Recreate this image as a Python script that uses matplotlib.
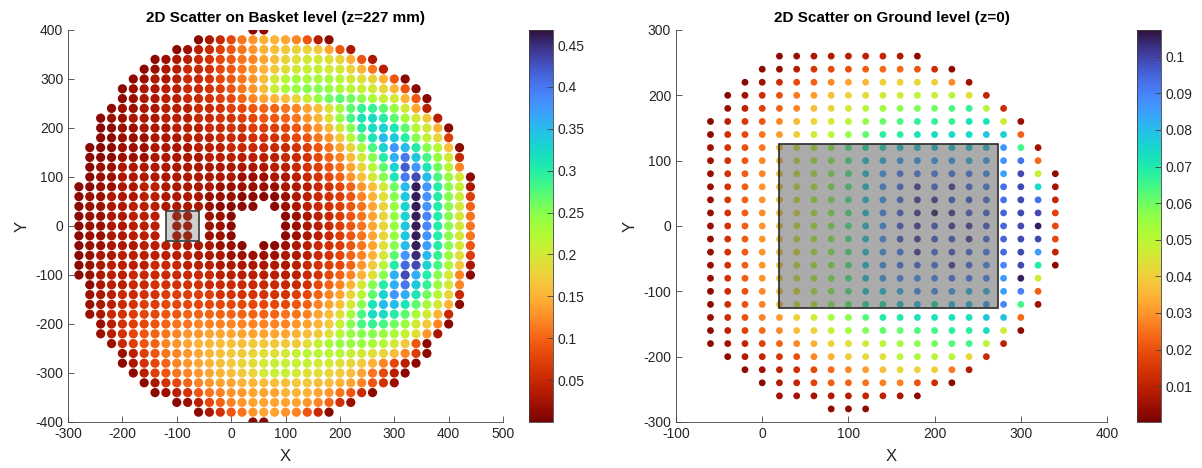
import matplotlib
matplotlib.use('Agg')
import matplotlib.pyplot as plt
from matplotlib.patches import Rectangle

STEP = 20  # grid pitch in mm

# ---- Basket level (z=227 mm): one entry per grid row, values in 0.01 units ----
basket_y = [400, 380, 360, 340, 320, 300, 280, 260, 240, 220, 200, 180, 160, 140,
            120, 100, 80, 60, 40, 20, 0, -20, -40, -60, -80, -100, -120, -140,
            -160, -180, -200, -220, -240, -260, -280, -300, -320, -340, -360,
            -380, -400]
basket_x0 = [40, -60, -100, -140, -160, -180, -200, -200, -220, -240, -240, -240,
             -260, -260, -260, -260, -280, -280, -280, -280, -280, -280, -280,
             -280, -280, -280, -260, -260, -260, -260, -240, -240, -220, -200,
             -200, -180, -160, -140, -100, -60, 40]
N = None
basket_vals = [
    [1, 1],
    [1, 3, 5, 8, 11, 13, 15, 15, 14, 12, 9, 4, 1],
    [1, 2, 4, 5, 7, 9, 11, 13, 15, 16, 17, 18, 18, 17, 14, 9, 3],
    [1, 2, 3, 4, 5, 6, 8, 9, 11, 12, 14, 16, 18, 19, 20, 20, 19, 18, 15, 9, 3],
    [1, 2, 3, 4, 5, 5, 6, 8, 9, 11, 13, 15, 17, 19, 20, 21, 21, 20, 20, 18, 15, 11, 4],
    [1, 2, 3, 3, 4, 5, 5, 6, 8, 9, 11, 13, 16, 20, 22, 23, 23, 23, 23, 22, 20, 19, 18,
     15, 9, 1],
    [1, 2, 3, 3, 4, 4, 5, 5, 6, 7, 9, 11, 13, 16, 21, 23, 24, 25, 25, 24, 23, 22, 21,
     20, 18, 15, 9, 1],
    [1, 2, 3, 3, 4, 4, 5, 5, 6, 7, 8, 10, 12, 14, 15, 16, 18, 21, 24, 26, 27, 26, 25,
     23, 21, 20, 15, 9, 1],
    [1, 2, 2, 3, 3, 4, 4, 4, 5, 5, 6, 7, 8, 9, 10, 10, 11, 12, 14, 16, 19, 23, 27, 29,
     29, 27, 24, 20, 14, 4],
    [1, 2, 2, 3, 3, 3, 4, 4, 4, 5, 5, 6, 6, 7, 8, 9, 9, 10, 11, 13, 15, 19, 24, 28, 31,
     32, 30, 27, 23, 20, 17, 4],
    [1, 1, 2, 2, 3, 3, 3, 4, 4, 4, 5, 5, 6, 6, 7, 7, 7, 8, 9, 11, 13, 16, 20, 25, 30,
     32, 33, 31, 27, 22, 20, 15, 1],
    [1, 1, 2, 2, 2, 3, 3, 3, 4, 4, 4, 5, 5, 5, 6, 6, 6, 7, 8, 9, 11, 13, 17, 22, 27,
     31, 35, 34, 30, 25, 21, 18, 7],
    [1, 1, 1, 2, 2, 2, 3, 3, 3, 3, 4, 4, 4, 5, 5, 5, 5, 5, 5, 6, 7, 9, 11, 14, 18, 23,
     28, 33, 38, 35, 30, 25, 22, 16, 1],
    [1, 1, 1, 2, 2, 2, 3, 3, 3, 3, 3, 4, 4, 4, 4, 4, 4, 4, 5, 5, 6, 8, 10, 12, 16, 20,
     25, 30, 36, 40, 34, 28, 24, 20, 5],
    [1, 2, 2, 3, 3, 3, 3, 3, 3, 3, 3, 3, 3, 3, 3, 3, 3, 4, 4, 5, 6, 7, 9, 11, 14, 18,
     22, 27, 33, 42, 38, 31, 26, 22, 12],
    [1, 2, 2, 3, 3, 3, 3, 3, 3, 3, 3, 3, 3, 3, 2, 2, 2, 3, 3, 4, 5, 6, 8, 10, 13, 16,
     20, 25, 31, 40, 43, 35, 28, 24, 20, 1],
    [1, 1, 2, 2, 3, 3, 4, 4, 3, 3, 3, 3, 3, 2, 2, 2, 2, 2, 2, 3, 3, 4, 5, 6, 8, 10, 13,
     16, 20, 26, 35, 46, 38, 30, 25, 21, 3],
    [1, 2, 2, 3, 3, 3, 4, 4, 3, 3, 3, 3, 2, 2, 2, 1, 1, 1, 1, 2, 3, 4, 5, 6, 7, 9, 12,
     15, 19, 25, 34, 46, 38, 30, 25, 21, 7],
    [1, 2, 2, 3, 3, 4, 4, 4, 3, 3, 3, 3, 2, 1, 1, 1, 1, N, 1, 2, 3, 4, 5, 6, 7, 9, 11,
     14, 18, 24, 33, 46, 38, 30, 25, 20, 10],
    [1, 2, 2, 3, 3, 4, 4, 4, N, 3, 3, N, 2, 2, 1, N, N, N, N, 1, 2, 3, 4, 5, 7, 9, 11,
     14, 18, 24, 33, 46, 39, 30, 25, 20, 11],
    [1, 2, 2, 3, 3, 4, 4, 4, N, 3, 3, N, 2, 2, 1, N, N, N, N, 1, 2, 3, 4, 5, 7, 9, 11,
     14, 18, 24, 34, 46, 39, 30, 25, 20, 11],
    [1, 2, 2, 3, 3, 4, 4, 4, N, 3, 3, N, 2, 2, 1, N, N, N, N, 1, 2, 3, 4, 5, 7, 9, 11,
     14, 18, 24, 34, 46, 38, 30, 25, 20, 11],
    [1, 2, 2, 3, 3, 3, 4, 4, 4, 4, 3, 3, 3, 2, 2, 1, N, 1, 1, 2, 3, 4, 5, 6, 7, 9, 11,
     14, 19, 25, 35, 46, 37, 30, 25, 20, 9],
    [1, 2, 3, 3, 4, 4, 4, 4, 4, 4, 4, 3, 3, 3, 2, 2, 2, 2, 2, 3, 3, 4, 5, 6, 8, 10, 12,
     15, 20, 27, 38, 45, 35, 29, 24, 19, 7],
    [1, 2, 3, 4, 4, 4, 4, 5, 5, 5, 4, 4, 4, 3, 3, 3, 3, 3, 3, 3, 4, 5, 6, 7, 8, 10, 13,
     17, 22, 30, 41, 43, 33, 28, 23, 17, 3],
    [1, 2, 3, 4, 4, 5, 5, 5, 5, 5, 5, 5, 5, 4, 4, 4, 4, 4, 4, 4, 4, 5, 6, 8, 10, 12,
     15, 19, 25, 36, 43, 36, 30, 25, 20, 12, 1],
    [1, 3, 4, 4, 5, 5, 6, 6, 6, 6, 6, 5, 5, 5, 5, 5, 5, 5, 5, 5, 6, 8, 10, 12, 15, 20,
     25, 30, 36, 40, 34, 29, 24, 20, 12],
    [2, 3, 4, 5, 5, 6, 6, 7, 7, 7, 7, 7, 6, 6, 6, 6, 6, 6, 6, 7, 8, 10, 12, 14, 18, 22,
     27, 33, 38, 36, 31, 26, 22, 18, 5],
    [2, 3, 4, 5, 6, 7, 7, 8, 8, 8, 8, 8, 8, 8, 8, 8, 8, 8, 8, 9, 10, 12, 14, 16, 20, 25,
     31, 35, 35, 31, 27, 23, 20, 15, 1],
    [2, 3, 5, 6, 7, 8, 8, 9, 9, 10, 10, 10, 10, 10, 10, 10, 10, 10, 11, 11, 12, 14, 16,
     19, 23, 28, 32, 32, 30, 27, 23, 20, 15, 5],
    [2, 4, 6, 7, 8, 9, 10, 11, 11, 12, 12, 12, 12, 12, 12, 12, 12, 12, 13, 14, 15, 17,
     21, 25, 28, 29, 28, 26, 24, 20, 17, 12, 1],
    [2, 4, 6, 8, 9, 10, 11, 12, 13, 13, 14, 14, 14, 14, 14, 14, 14, 14, 15, 16, 17, 19,
     22, 24, 25, 25, 24, 23, 21, 19, 13, 3],
    [2, 5, 7, 9, 10, 12, 13, 14, 15, 15, 16, 16, 16, 17, 17, 17, 17, 17, 19, 21, 23, 24,
     24, 24, 23, 22, 20, 17, 9, 1],
    [2, 4, 7, 9, 11, 12, 13, 14, 15, 16, 17, 17, 18, 19, 19, 20, 21, 22, 22, 22, 22, 21,
     20, 19, 18, 16, 12, 7, 1],
    [1, 3, 6, 8, 10, 12, 13, 14, 15, 16, 17, 18, 19, 20, 21, 21, 21, 21, 20, 20, 19, 18,
     17, 15, 12, 8, 4, 1],
    [1, 4, 7, 9, 11, 12, 13, 14, 15, 16, 17, 18, 20, 21, 21, 20, 19, 19, 18, 17, 16, 14,
     11, 8, 4, 1],
    [1, 3, 6, 8, 10, 12, 13, 14, 14, 15, 15, 16, 16, 16, 17, 17, 16, 16, 15, 14, 12, 9,
     6, 2],
    [1, 2, 4, 6, 9, 11, 12, 13, 13, 14, 14, 14, 15, 15, 15, 14, 13, 11, 9, 5, 1],
    [1, 2, 4, 8, 10, 12, 13, 14, 14, 14, 14, 14, 13, 12, 10, 6, 2],
    [1, 3, 6, 9, 11, 13, 14, 14, 13, 12, 9, 5, 1],
    [1, 1],
]

# ---- Ground level (z=0): values in 0.001 units ----
ground_y = [260, 240, 220, 200, 180, 160, 140, 120, 100, 80, 60, 40, 20, 0, -20,
            -40, -60, -80, -100, -120, -140, -160, -180, -200, -220, -240, -260, -280]
ground_x0 = [20, 0, -20, -40, -40, -60, -60, -60, -60, -60, -60, -60, -60, -60, -60,
             -60, -60, -60, -60, -60, -60, -60, -60, -40, -20, 0, 20, 80]
ground_vals = [
    [3, 4, 7, 8, 9, 10, 11, 8, 3],
    [3, 4, 9, 15, 19, 20, 22, 24, 24, 21, 13, 3],
    [2, 5, 13, 19, 23, 28, 32, 35, 40, 41, 42, 40, 28, 5],
    [2, 5, 13, 20, 26, 31, 37, 41, 43, 46, 48, 50, 48, 50, 43, 11],
    [4, 10, 17, 23, 28, 36, 41, 46, 50, 54, 57, 58, 60, 64, 67, 50, 12],
    [2, 10, 15, 21, 28, 36, 41, 46, 50, 56, 61, 64, 67, 67, 66, 72, 72, 46, 4],
    [3, 13, 19, 26, 31, 40, 46, 50, 56, 62, 68, 68, 72, 74, 74, 74, 79, 76, 23],
    [5, 14, 20, 26, 37, 45, 50, 56, 64, 70, 71, 76, 77, 78, 77, 77, 78, 86, 65, 6],
    [5, 14, 21, 28, 37, 45, 50, 57, 64, 77, 80, 84, 84, 84, 84, 80, 84, 87, 93, 24],
    [4, 14, 22, 28, 38, 45, 51, 57, 64, 77, 84, 90, 90, 90, 91, 90, 88, 85, 99, 48, 3],
    [4, 14, 22, 30, 38, 45, 51, 57, 64, 77, 86, 93, 101, 93, 101, 93, 90, 93, 99, 74, 6],
    [4, 15, 23, 30, 38, 45, 51, 57, 64, 77, 86, 93, 101, 101, 96, 96, 93, 93, 99, 93, 11],
    [4, 14, 22, 29, 38, 45, 51, 57, 64, 78, 88, 94, 101, 105, 101, 96, 94, 95, 99, 99, 17],
    [4, 14, 22, 30, 38, 45, 51, 57, 64, 78, 86, 96, 101, 96, 101, 101, 96, 94, 99, 105, 19],
    [4, 14, 22, 30, 38, 45, 51, 57, 64, 78, 86, 96, 101, 96, 96, 101, 93, 95, 99, 99, 19],
    [4, 14, 22, 30, 38, 45, 51, 57, 64, 78, 86, 90, 101, 93, 96, 93, 90, 94, 99, 85, 11],
    [4, 14, 22, 30, 38, 45, 51, 57, 64, 78, 86, 91, 93, 91, 101, 93, 88, 89, 99, 70, 3],
    [4, 14, 22, 30, 38, 45, 51, 57, 64, 77, 84, 88, 86, 88, 91, 90, 88, 85, 105, 47],
    [3, 13, 20, 28, 38, 45, 51, 57, 64, 76, 78, 80, 86, 86, 84, 80, 80, 85, 90, 22],
    [3, 13, 20, 27, 37, 45, 50, 56, 62, 70, 70, 78, 80, 72, 80, 80, 84, 90, 65, 5],
    [4, 13, 20, 27, 31, 41, 46, 54, 57, 63, 70, 70, 72, 72, 72, 72, 79, 79, 24],
    [3, 10, 17, 24, 28, 36, 41, 48, 54, 58, 61, 61, 63, 65, 68, 68, 73, 46, 3],
    [3, 6, 11, 17, 23, 28, 34, 41, 44, 46, 50, 54, 57, 60, 63, 65, 50, 10],
    [3, 8, 11, 15, 20, 28, 34, 40, 42, 44, 50, 52, 50, 50, 42, 12],
    [3, 5, 10, 13, 19, 24, 28, 31, 37, 42, 41, 40, 26, 8],
    [2, 8, 11, 17, 22, 23, 25, 27, 27, 20, 13, 3],
    [6, 6, 6, 8, 9, 11, 10, 7, 3],
    [3, 3, 3],
]


def unpack(ys, x0s, rows, scale):
    xs, yy, cc = [], [], []
    for y, x0, row in zip(ys, x0s, rows):
        for i, v in enumerate(row):
            if v is None:
                continue
            xs.append(x0 + STEP * i)
            yy.append(y)
            cc.append(v * scale)
    return xs, yy, cc


def style(ax):
    for s in ['top', 'right']:
        ax.spines[s].set_visible(False)
    for s in ['left', 'bottom']:
        ax.spines[s].set_color('#404040')
        ax.spines[s].set_linewidth(0.6)
    ax.tick_params(direction='in', length=4, width=0.6, color='#404040',
                   labelcolor='#262626', labelsize=10)


def colorbar(fig, sc, rect, ticks, labels):
    cax = fig.add_axes(rect)
    cb = fig.colorbar(sc, cax=cax)
    cb.set_ticks(ticks)
    cb.set_ticklabels(labels)
    cb.ax.tick_params(direction='in', length=4, width=0.6, color='#404040',
                      labelcolor='#262626', labelsize=10)
    cb.outline.set_edgecolor('#404040')
    cb.outline.set_linewidth(0.6)
    return cb


plt.rcParams['font.family'] = ['Liberation Sans', 'DejaVu Sans']
plt.rcParams['axes.unicode_minus'] = False

fig = plt.figure(figsize=(12.02, 4.68), dpi=100)

# left: basket level
bx, by, bc = unpack(basket_y, basket_x0, basket_vals, 0.01)
ax1 = fig.add_axes([0.0566, 0.0983, 0.3619, 0.8376])
sc1 = ax1.scatter(bx, by, c=bc, cmap='turbo_r', vmin=0.0, vmax=0.468, s=44,
                  linewidths=0, zorder=2)
ax1.add_patch(Rectangle((-120, -30), 60, 60, facecolor=(0.35, 0.35, 0.35, 0.28),
                        edgecolor='#3a3a3a', linewidth=1.2, zorder=3))
ax1.set_xlim(-300, 500)
ax1.set_ylim(-400, 400)
ax1.set_xticks(range(-300, 501, 100))
ax1.set_yticks(range(-400, 401, 100))
style(ax1)
ax1.set_title('2D Scatter on Basket level (z=227 mm)', fontsize=11,
              fontweight='bold', pad=6)
ax1.set_xlabel('X', fontsize=12, color='#262626', labelpad=6)
ax1.set_ylabel('Y', fontsize=12, color='#262626')
colorbar(fig, sc1, [0.4401, 0.0983, 0.0197, 0.8376],
         [0.05, 0.1, 0.15, 0.2, 0.25, 0.3, 0.35, 0.4, 0.45],
         ['0.05', '0.1', '0.15', '0.2', '0.25', '0.3', '0.35', '0.4', '0.45'])

# right: ground level
gx, gy, gc = unpack(ground_y, ground_x0, ground_vals, 0.001)
ax2 = fig.add_axes([0.5624, 0.0983, 0.3586, 0.8376])
sc2 = ax2.scatter(gx, gy, c=gc, cmap='turbo_r', vmin=0.0002, vmax=0.1073, s=24,
                  linewidths=0, zorder=2)
ax2.add_patch(Rectangle((20, -125), 253, 250, facecolor=(0.35, 0.35, 0.35, 0.5),
                        edgecolor='#2a2a2a', linewidth=1.2, zorder=3))
ax2.set_xlim(-100, 400)
ax2.set_ylim(-300, 300)
ax2.set_xticks(range(-100, 401, 100))
ax2.set_yticks(range(-300, 301, 100))
style(ax2)
ax2.set_title('2D Scatter on Ground level (z=0)', fontsize=11,
              fontweight='bold', pad=6)
ax2.set_xlabel('X', fontsize=12, color='#262626', labelpad=6)
ax2.set_ylabel('Y', fontsize=12, color='#262626')
colorbar(fig, sc2, [0.9459, 0.0983, 0.0197, 0.8376],
         [0.01, 0.02, 0.03, 0.04, 0.05, 0.06, 0.07, 0.08, 0.09, 0.1],
         ['0.01', '0.02', '0.03', '0.04', '0.05', '0.06', '0.07', '0.08', '0.09', '0.1'])

fig.savefig('out.png', dpi=100)
